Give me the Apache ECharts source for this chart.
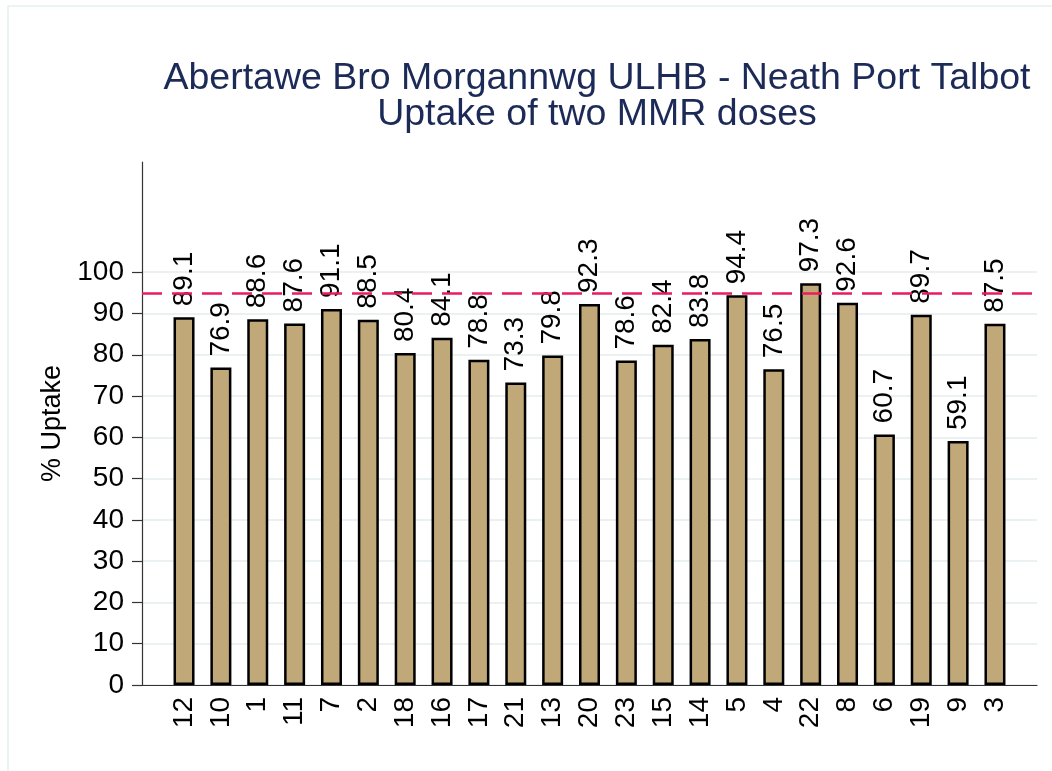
<!DOCTYPE html>
<html>
<head>
<meta charset="utf-8">
<title>Uptake of two MMR doses</title>
<script src="https://cdn.jsdelivr.net/npm/echarts@6/dist/echarts.min.js"></script>
<style>
  html, body { margin: 0; padding: 0; background: #fff; }
  #chart { width: 1052px; height: 771px; }
</style>
</head>
<body>
<div id="chart"></div>
<script>
// GP practice / cluster codes, in plotted order
const categories = ['12', '10', '1', '11', '7', '2', '18', '16', '17', '21', '13', '20',
  '23', '15', '14', '5', '4', '22', '8', '6', '19', '9', '3'];
// % uptake of two MMR doses
const uptake = [89.1, 76.9, 88.6, 87.6, 91.1, 88.5, 80.4, 84.1, 78.8, 73.3, 79.8, 92.3,
  78.6, 82.4, 83.8, 94.4, 76.5, 97.3, 92.6, 60.7, 89.7, 59.1, 87.5];
const yTicks = [0, 10, 20, 30, 40, 50, 60, 70, 80, 90, 100];
const target = 95;

const font = '"Liberation Sans", Arial, sans-serif';
const yMax = 126.7;

const chart = echarts.init(document.getElementById('chart'));

const option = {
  backgroundColor: '#fff',
  animation: false,
  textStyle: { fontFamily: font },
  title: {
    text: 'Abertawe Bro Morgannwg ULHB - Neath Port Talbot\nUptake of two MMR doses',
    left: 592,
    top: 56,
    textAlign: 'center',
    textStyle: {
      fontFamily: font,
      fontSize: 37.5,
      fontWeight: 'normal',
      color: '#1c2a57',
      lineHeight: 36
    }
  },
  graphic: [
    {
      type: 'rect',
      shape: { x: 8, y: 6, width: 1100, height: 800 },
      style: { fill: 'none', stroke: '#e6eff1', lineWidth: 1.5 },
      silent: true
    }
  ],
  grid: [
    // full plot region: axes, grid lines, target line
    { left: 142, right: 15, top: 162, bottom: 86 },
    // bars sit inside with an outer gap
    { left: 165.6, right: 38.6, top: 162, bottom: 86 }
  ],
  xAxis: [
    {
      gridIndex: 0,
      type: 'value',
      min: 0,
      max: 1,
      axisLine: { show: true, onZero: false, lineStyle: { color: '#333', width: 1.2 } },
      axisTick: { show: false },
      axisLabel: { show: false },
      splitLine: { show: false }
    },
    {
      gridIndex: 1,
      type: 'category',
      data: categories,
      axisLine: { show: false },
      axisTick: { show: false },
      axisLabel: {
        rotate: 90,
        margin: 12,
        fontSize: 28,
        color: '#000',
        fontFamily: font
      }
    }
  ],
  yAxis: [
    {
      gridIndex: 0,
      type: 'value',
      min: 0,
      max: yMax,
      interval: 10,
      name: '% Uptake',
      nameLocation: 'middle',
      nameRotate: 90,
      nameGap: 71,
      nameTextStyle: { fontSize: 27, color: '#000', fontFamily: font },
      axisLine: { show: true, lineStyle: { color: '#333', width: 1.2 } },
      axisTick: { show: true, length: 10, customValues: yTicks, lineStyle: { color: '#333', width: 1.2 } },
      axisLabel: {
        customValues: yTicks,
        margin: 18,
        fontSize: 28,
        color: '#000',
        fontFamily: font
      },
      splitLine: { show: true, lineStyle: { color: '#e4ecef', width: 1.5 } }
    },
    {
      gridIndex: 1,
      type: 'value',
      min: 0,
      max: yMax,
      show: false,
      splitLine: { show: false }
    }
  ],
  series: [
    {
      type: 'line',
      xAxisIndex: 0,
      yAxisIndex: 0,
      data: [],
      silent: true,
      markLine: {
        symbol: 'none',
        silent: true,
        label: { show: false },
        lineStyle: { color: '#ea1c5f', type: [20, 10], width: 2.5 },
        data: [{ yAxis: target }]
      }
    },
    {
      type: 'bar',
      xAxisIndex: 1,
      yAxisIndex: 1,
      data: uptake,
      barWidth: 21,
      itemStyle: { color: '#c0a878', borderColor: '#000', borderWidth: 2.5 },
      label: {
        show: true,
        position: 'top',
        rotate: 90,
        align: 'left',
        verticalAlign: 'middle',
        distance: 11,
        fontSize: 28,
        color: '#000',
        fontFamily: font,
        formatter: (p) => p.value.toFixed(1)
      }
    }
  ]
};

chart.setOption(option);
</script>
</body>
</html>
